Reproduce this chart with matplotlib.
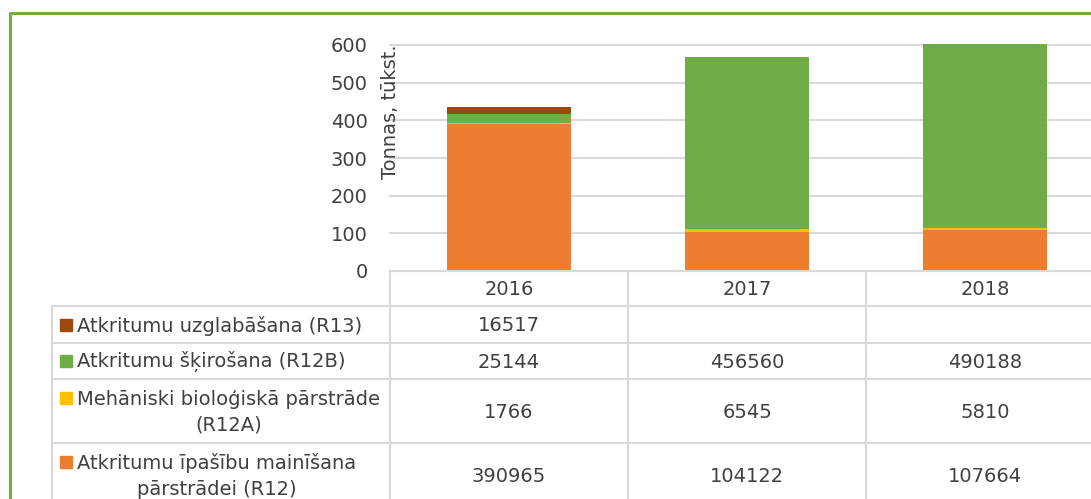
import numpy as np
import matplotlib
matplotlib.use('Agg')
import matplotlib.pyplot as plt
from matplotlib.patches import Rectangle

# data (tonnes)
years = ['2016', '2017', '2018']
series_names = ['Atkritumu uzglabāšana (R13)',
                'Atkritumu šķirošana (R12B)',
                'Mehāniski bioloģiskā pārstrāde\n(R12A)',
                'Atkritumu īpašību mainīšana\npārstrādei (R12)']
r13 = [16517, None, None]
r12b = [25144, 456560, 490188]
r12a = [1766, 6545, 5810]
r12 = [390965, 104122, 107664]
colors = ['#9e480e', '#70ad47', '#ffc000', '#ed7d31']
yticks = [0, 100, 200, 300, 400, 500, 600]

W, H = 1091, 499
txt = '#404040'
grid_c = '#d9d9d9'
fs = 14
plt.rcParams['font.family'] = ['DejaVu Sans']

fig = plt.figure(figsize=(W / 100, H / 100), dpi=100)

# plot area in pixels (runs past the right edge like the original)
x0, x1 = 390, 1104
y0, y1 = 271, 45
ax = fig.add_axes([x0 / W, (H - y0) / H, (x1 - x0) / W, (y0 - y1) / H])

rows = [r13, r12b, r12a, r12]
stack_order = [3, 2, 1, 0]  # bottom to top
bottom = np.zeros(3)
x = np.arange(3)
for k in stack_order:
    v = np.array([0 if a is None else a for a in rows[k]], dtype=float) / 1000
    bars = ax.bar(x, v, 0.52, bottom=bottom, color=colors[k], zorder=3)
    for b in bars:
        b.set_clip_on(False)
    bottom += v

ax.set_xlim(-0.5, 2.5)
ax.set_ylim(0, 600)
ax.set_yticks(yticks)
ax.set_yticklabels([str(t) for t in yticks], fontsize=fs, color=txt)
ax.tick_params(axis='y', length=0, pad=16)
ax.set_xticks([])
ax.grid(axis='y', color=grid_c, linewidth=1.5, zorder=0)
for gl in ax.yaxis.get_gridlines():
    gl.set_clip_on(False)
for s in ax.spines.values():
    s.set_visible(False)
ax.text(-0.5, 422, 'Tonnas, tūkst.', rotation=90, ha='center', va='center',
        fontsize=fs, color=txt, zorder=5)

# data table drawn on an overlay in pixel coordinates
ov = fig.add_axes([0, 0, 1, 1])
ov.set_xlim(0, W)
ov.set_ylim(H, 0)
ov.axis('off')
ov.patch.set_alpha(0)

col_w = (x1 - x0) / 3
lab_l = 52
row_y = [271, 306, 343, 379, 443, 507]
lw = 1.5
ov.plot([x0, W + 20], [row_y[0], row_y[0]], color=grid_c, lw=lw)
for yy in row_y[1:]:
    ov.plot([lab_l, W + 20], [yy, yy], color=grid_c, lw=lw)
for i in range(3):
    xx = x0 + i * col_w
    ov.plot([xx, xx], [row_y[0], H + 20], color=grid_c, lw=lw)
ov.plot([lab_l, lab_l], [row_y[1], H + 20], color=grid_c, lw=lw)

for i, yr in enumerate(years):
    ov.text(x0 + (i + 0.5) * col_w, (row_y[0] + row_y[1]) / 2 + 1, yr,
            ha='center', va='center', fontsize=fs, color=txt)

for r, name in enumerate(series_names):
    yc = (row_y[r + 1] + row_y[r + 2]) / 2
    ov.text(77, yc + 1, name, ha='left', va='center', multialignment='center',
            fontsize=fs, color=txt, linespacing=1.45)
    nlines = name.count('\n') + 1
    sy = yc - (nlines - 1) * 13.5
    ov.add_patch(Rectangle((60, sy - 6), 12, 12, color=colors[r]))
    for i, v in enumerate(rows[r]):
        if v is None:
            continue
        ov.text(x0 + (i + 0.5) * col_w, yc + 1, str(v), ha='center', va='center',
                fontsize=fs, color=txt)

# outer green frame
ov.plot([10, 10, W + 20], [H + 20, 13, 13], color='#70ad47', lw=2.2)

fig.savefig('out.png', dpi=100)
